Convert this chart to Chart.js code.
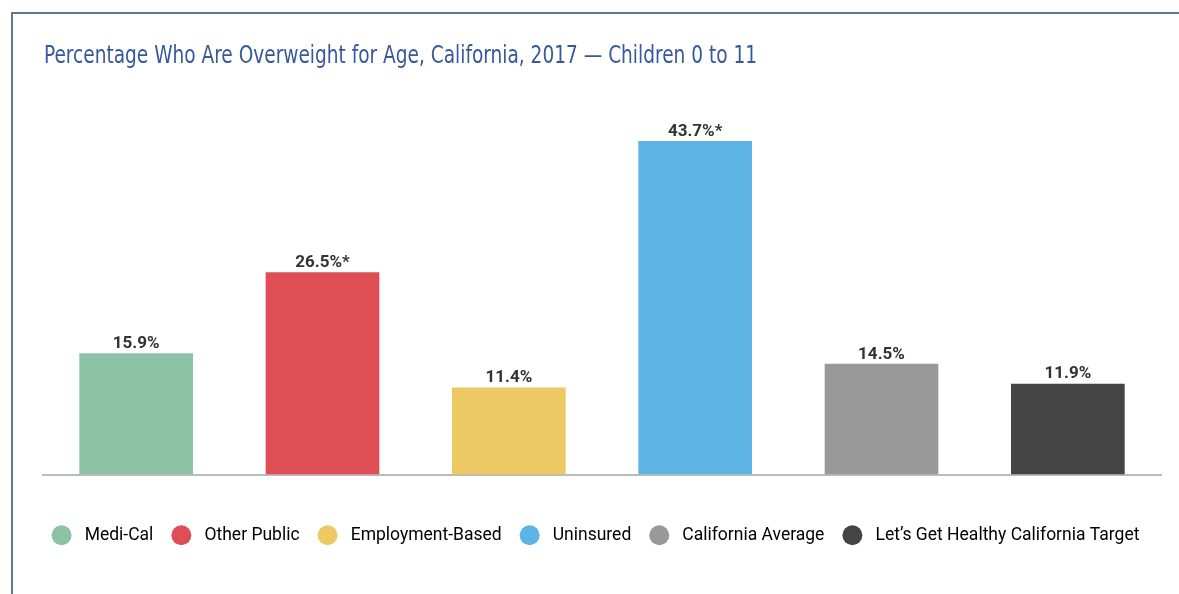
<!DOCTYPE html>
<html>
<head>
<meta charset="utf-8">
<script src="https://cdn.jsdelivr.net/npm/chart.js@4/dist/chart.umd.min.js"></script>
<style>
  html, body { margin: 0; padding: 0; background: #fff; }
  #frame {
    position: absolute; left: 11px; top: 12px; width: 1300px; height: 700px;
    border-top: 2px solid #62768c; border-left: 2px solid #62768c;
  }
  #wrap { position: absolute; left: 0; top: 0; width: 1179px; height: 594px; }
</style>
</head>
<body>
<div id="frame"></div>
<div id="wrap"><canvas id="bar-chart"></canvas></div>
<script>
// data
var categories = ["Medi-Cal", "Other Public", "Employment-Based", "Uninsured", "California Average", "Let\u2019s Get Healthy California Target"];
var values = [15.9, 26.5, 11.4, 43.7, 14.5, 11.9];
var valueLabels = ["15.9%", "26.5%*", "11.4%", "43.7%*", "14.5%", "11.9%"];
var colors = ["#8cc2a6", "#de4e54", "#edc964", "#5db3e4", "#999999", "#444444"];
var titleText = "Percentage Who Are Overweight for Age, California, 2017 \u2014 Children 0 to 11";

// tiêu đề kiểu chữ hẹp
var narrowTitle = {
  id: "narrowTitle",
  afterDraw: function (chart) {
    var ctx = chart.ctx;
    ctx.save();
    ctx.font = "24px 'DejaVu Sans Condensed', sans-serif";
    ctx.fillStyle = "#37599a";
    ctx.textBaseline = "alphabetic";
    var w = ctx.measureText(titleText).width;
    ctx.translate(44, 63);
    ctx.scale(713 / w, 1);
    ctx.fillText(titleText, 0, 0);
    ctx.restore();
  },
};

// nhãn giá trị trên mỗi cột
var barLabels = {
  id: "barLabels",
  afterDatasetsDraw: function (chart) {
    var ctx = chart.ctx;
    var meta = chart.getDatasetMeta(0);
    ctx.save();
    ctx.font = "bold 17px Roboto";
    ctx.fillStyle = "#333333";
    ctx.textAlign = "center";
    ctx.textBaseline = "bottom";
    meta.data.forEach(function (bar, i) {
      ctx.fillText(valueLabels[i], bar.x, bar.y - 1);
    });
    ctx.restore();
  },
};

var ctx = document.getElementById("bar-chart").getContext("2d");
var chart = new Chart(ctx, {
  type: "bar",
  data: {
    labels: categories,
    datasets: [
      {
        data: values,
        backgroundColor: colors,
        categoryPercentage: 1,
        barPercentage: 0.61,
      },
    ],
  },
  options: {
    responsive: true,
    maintainAspectRatio: false,
    animation: false,
    layout: { padding: { left: 30, right: 18, top: 93, bottom: 40 } },
    scales: {
      x: {
        grid: { display: false },
        ticks: { display: false },
        border: { display: true, color: "#bbbbbb", width: 2 },
        afterFit: function (scale) {
          scale.height += 26;
        },
      },
      y: {
        display: true,
        min: 0,
        max: 50,
        grid: { display: false },
        ticks: { display: false },
        border: { display: false },
        afterFit: function (scale) {
          scale.width = 13;
        },
      },
    },
    plugins: {
      title: { display: false },
      legend: {
        position: "bottom",
        labels: {
          usePointStyle: true,
          pointStyle: "circle",
          pointStyleWidth: 20,
          boxHeight: 14.14,
          padding: 18,
          color: "#555555",
          font: { family: "Roboto", size: 17.5 },
          generateLabels: function (chart) {
            return categories.map(function (c, i) {
              return {
                text: " " + c,
                fillStyle: colors[i],
                strokeStyle: colors[i],
                lineWidth: 0,
                pointStyle: "circle",
                index: i,
              };
            });
          },
        },
      },
      tooltip: { enabled: false },
    },
  },
  plugins: [barLabels, narrowTitle],
});
</script>
</body>
</html>
